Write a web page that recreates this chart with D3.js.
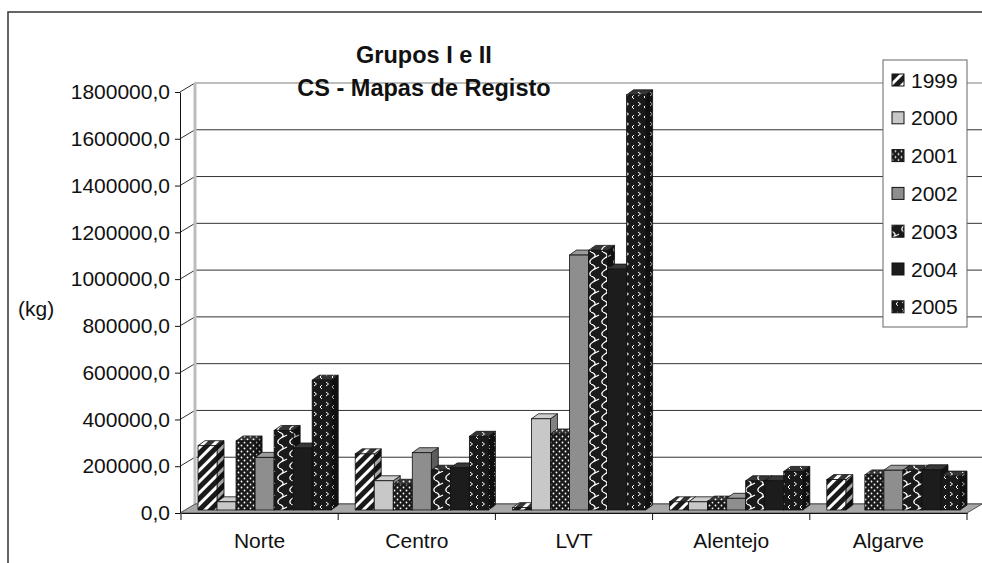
<!DOCTYPE html>
<html>
<head>
<meta charset="utf-8">
<script src="https://cdn.jsdelivr.net/npm/d3@7"></script>
<style>
  body { margin: 0; background: #fff; }
  text { font-family: "Liberation Sans", Arial, sans-serif; fill: #111; }
</style>
</head>
<body>
<div id="graph1"></div>
<script>
let width = 982,
    height = 563;

// data
const categories = ["Norte", "Centro", "LVT", "Alentejo", "Algarve"];
const years = ["1999", "2000", "2001", "2002", "2003", "2004", "2005"];
const v1999 = [275000, 240000, 10000, 35000, 130000];
const v2000 = [35000, 125000, 390000, 35000, 0];
const v2001 = [295000, 110000, 325000, 38000, 150000];
const v2002 = [225000, 245000, 1090000, 50000, 170000];
const v2003 = [340000, 170000, 1110000, 125000, 170000];
const v2004 = [265000, 180000, 1030000, 125000, 172000];
const v2005 = [555000, 315000, 1775000, 165000, 145000];
const yTicks = [0, 200000, 400000, 600000, 800000, 1000000, 1200000, 1400000, 1600000, 1800000];

const series = [v1999, v2000, v2001, v2002, v2003, v2004, v2005];

// 3d offsets
const wallDx = 15, wallDy = 9;     // back wall
const frontDx = 5, frontDy = 3;    // bars front plane
const barDx = 7, barDy = 5;        // bar depth

let svg = d3.select("#graph1")
    .append("svg")
    .attr("width", width)
    .attr("height", height);

let defs = svg.append("defs");

function pattern(id, w, h, draw) {
    let p = defs.append("pattern")
        .attr("id", id)
        .attr("patternUnits", "userSpaceOnUse")
        .attr("width", w)
        .attr("height", h);
    p.append("rect").attr("width", w).attr("height", h).attr("fill", "#1a1a1a");
    draw(p);
    return p;
}

// 1999 diagonal stripes
pattern("p1999", 8, 8, p => {
    p.append("rect").attr("x", 0).attr("width", 3).attr("height", 8).attr("fill", "#fff");
}).attr("patternTransform", "rotate(45)");

// 2001 dots
pattern("p2001", 6, 6, p => {
    p.append("circle").attr("cx", 1.5).attr("cy", 1.5).attr("r", 0.9).attr("fill", "#fff");
    p.append("circle").attr("cx", 4.5).attr("cy", 4.5).attr("r", 0.9).attr("fill", "#fff");
});

// 2003 zigzag
pattern("p2003", 12, 12, p => {
    p.append("path").attr("d", "M3,0 Q10,3 5,6 Q0,9 3,12 M5,6 L11,3")
        .attr("fill", "none").attr("stroke", "#fff").attr("stroke-width", 1.3);
});

// 2005 chevrons
pattern("p2005", 12, 10, p => {
    p.append("path").attr("d", "M2,2 L4.5,4 L2,6 M10,5 L8,7 L10,9")
        .attr("fill", "none").attr("stroke", "#fff").attr("stroke-width", 1);
});

const fills = {
    "1999": "url(#p1999)",
    "2000": "#c8c8c8",
    "2001": "url(#p2001)",
    "2002": "#8e8e8e",
    "2003": "url(#p2003)",
    "2004": "#1c1c1c",
    "2005": "url(#p2005)"
};

// outer frame
svg.append("rect")
    .attr("x", 8).attr("y", 12)
    .attr("width", 990).attr("height", 580)
    .attr("fill", "none").attr("stroke", "#333").attr("stroke-width", 1.5);

let x0 = d3.scaleBand()
    .domain(categories)
    .range([181, 967]);

let gap = 24;
let x1 = d3.scaleBand()
    .domain(years)
    .range([gap / 2, x0.bandwidth() - gap / 2]);

let y = d3.scaleLinear()
    .domain([0, 1800000])
    .range([513, 92]);

// back wall gridlines
let grid = svg.append("g");
grid.selectAll("line.grid").data(yTicks).enter()
    .append("line")
    .attr("x1", 180 + wallDx).attr("x2", 982)
    .attr("y1", d => y(d) - wallDy).attr("y2", d => y(d) - wallDy)
    .attr("stroke", d => d === 1800000 ? "#bdbdbd" : "#333")
    .attr("stroke-width", d => d === 1800000 ? 2 : 1);

grid.selectAll("line.diag").data(yTicks.filter(d => d > 0)).enter()
    .append("line")
    .attr("x1", 180).attr("x2", 180 + wallDx)
    .attr("y1", d => y(d)).attr("y2", d => y(d) - wallDy)
    .attr("stroke", "#333").attr("stroke-width", 1);

grid.append("line")
    .attr("x1", 180 + wallDx).attr("x2", 180 + wallDx)
    .attr("y1", y(1800000) - wallDy).attr("y2", y(0) - wallDy)
    .attr("stroke", "#bdbdbd").attr("stroke-width", 3);

// floor
svg.append("polygon")
    .attr("points", [
        [180, y(0)], [180 + wallDx, y(0) - wallDy],
        [982, y(0) - wallDy], [x0.range()[1], y(0)]
    ].join(" "))
    .attr("fill", "#a8a8a8").attr("stroke", "#555").attr("stroke-width", 1);

// bars
let bars = [];
categories.forEach((c, i) => {
    years.forEach((yr, j) => {
        if (series[j][i] > 0) bars.push({ c: c, yr: yr, v: series[j][i] });
    });
});

let barG = svg.append("g");
bars.forEach(d => {
    let xf = x0(d.c) + x1(d.yr) + frontDx;
    let w = x1.bandwidth();
    let yb = y(0) - frontDy;
    let yt = y(d.v) - frontDy;
    let g = barG.append("g");
    let side = [[xf + w, yt], [xf + w + barDx, yt - barDy], [xf + w + barDx, yb - barDy], [xf + w, yb]];
    let top = [[xf, yt], [xf + barDx, yt - barDy], [xf + w + barDx, yt - barDy], [xf + w, yt]];
    g.append("polygon").attr("points", side.join(" ")).attr("fill", fills[d.yr]);
    g.append("polygon").attr("points", side.join(" ")).attr("fill", "#000").attr("fill-opacity", 0.35)
        .attr("stroke", "#111").attr("stroke-width", 0.8);
    g.append("polygon").attr("points", top.join(" ")).attr("fill", fills[d.yr]);
    g.append("polygon").attr("points", top.join(" ")).attr("fill", "#fff").attr("fill-opacity", 0.12)
        .attr("stroke", "#111").attr("stroke-width", 0.8);
    g.append("rect")
        .attr("x", xf).attr("y", yt)
        .attr("width", w).attr("height", yb - yt)
        .attr("fill", fills[d.yr])
        .attr("stroke", "#111").attr("stroke-width", 0.8);
});

// y axis
svg.append("g")
    .attr("transform", "translate(180,0)")
    .call(d3.axisLeft(y).tickValues(yTicks).tickSize(5).tickSizeOuter(0).tickPadding(5)
        .tickFormat(d => d.toFixed(1).replace(".", ",")))
    .call(g => g.selectAll("text").style("font-size", "21px").attr("fill", "#111").style("font-family", "'Liberation Sans', Arial, sans-serif"))
    .call(g => g.selectAll("line, path").attr("stroke", "#111"));

// x axis
let xAxis = svg.append("g")
    .attr("transform", `translate(0,${y(0)})`)
    .call(d3.axisBottom(x0).tickSize(0).tickPadding(20).tickSizeOuter(0))
    .call(g => g.selectAll("text").style("font-size", "21px").attr("fill", "#111").style("font-family", "'Liberation Sans', Arial, sans-serif"))
    .call(g => g.select("path").attr("stroke", "#111"));

xAxis.selectAll("line.sep")
    .data(categories.map(c => x0(c)).concat([x0.range()[1]]))
    .enter()
    .append("line")
    .attr("x1", d => d).attr("x2", d => d)
    .attr("y1", 0).attr("y2", 7)
    .attr("stroke", "#111");

// title
svg.append("text")
    .attr("x", 424).attr("y", 63)
    .style("text-anchor", "middle")
    .style("font-size", "23.5px").style("font-weight", "bold")
    .text("Grupos I e II");

svg.append("text")
    .attr("x", 424).attr("y", 96)
    .style("text-anchor", "middle")
    .style("font-size", "23.5px").style("font-weight", "bold")
    .text("CS - Mapas de Registo");

// y label
svg.append("text")
    .attr("x", 18).attr("y", 316)
    .style("font-size", "21px")
    .text("(kg)");

// legend
let legend = svg.append("g");
legend.append("rect")
    .attr("x", 883).attr("y", 60)
    .attr("width", 84).attr("height", 267)
    .attr("fill", "#fff").attr("stroke", "#666");

let items = legend.selectAll("g.item").data(years).enter()
    .append("g")
    .attr("transform", (d, i) => `translate(0,${80 + i * 37.8})`);

items.append("rect")
    .attr("x", 892).attr("y", -6)
    .attr("width", 12).attr("height", 12)
    .attr("fill", d => fills[d])
    .attr("stroke", "#111");

items.append("text")
    .attr("x", 911).attr("y", 0).attr("dy", "0.36em")
    .style("font-size", "21px")
    .text(d => d);
</script>
</body>
</html>
